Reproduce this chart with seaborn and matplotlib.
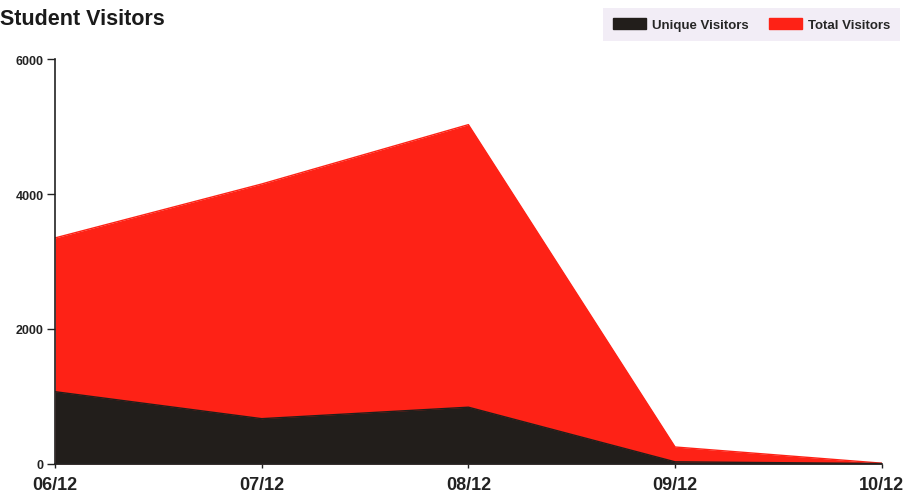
import matplotlib
matplotlib.use("Agg")
import matplotlib.pyplot as plt
import matplotlib.patches as mpatches
import seaborn as sns
import pandas as pd

months = ["06/12", "07/12", "08/12", "09/12", "10/12"]
total_visitors = [3350, 4150, 5030, 250, 10]
unique_visitors = [1070, 670, 840, 30, 5]
y_ticks = [0, 2000, 4000, 6000]

RED = "#fe2216"
DARK = "#221e1b"

sns.set_theme(style="white")
plt.rcParams["font.family"] = ["Liberation Sans", "DejaVu Sans"]

df = pd.DataFrame({
    "month": months,
    "pos": range(len(months)),
    "total": total_visitors,
    "unique": unique_visitors,
})

fig = plt.figure(figsize=(9.08, 5.02), dpi=100)
ax = fig.add_axes([0.0606, 0.074, 0.9105, 0.806])

ax.fill_between(df["pos"], 0, df["total"], color=RED, linewidth=0)
ax.fill_between(df["pos"], 0, df["unique"], color=DARK, linewidth=0)
sns.lineplot(data=df, x="pos", y="total", ax=ax, color=RED, linewidth=1)
sns.lineplot(data=df, x="pos", y="unique", ax=ax, color=DARK, linewidth=1)

ax.set_xlim(0, len(months) - 1)
ax.set_ylim(0, 6000)
ax.set_xticks(df["pos"])
ax.set_xticklabels(months, fontsize=13, fontweight="bold", color="#222222")
ax.set_yticks(y_ticks)
ax.set_yticklabels([str(v) for v in y_ticks], fontsize=9, fontweight="bold", color="#222222")
ax.set_xlabel("")
ax.set_ylabel("")

for side in ["top", "right"]:
    ax.spines[side].set_visible(False)
for side in ["left", "bottom"]:
    ax.spines[side].set_color("#222222")
    ax.spines[side].set_linewidth(1.2)

ax.tick_params(axis="y", direction="out", length=6, width=1, color="#222222", pad=2, left=True)
ax.tick_params(axis="x", direction="out", length=3, width=1, color="#222222", pad=6, bottom=True)

fig.text(0.0, 0.962, "Student Visitors", fontsize=15.5, fontweight="bold",
         color="#1a1a1a", ha="left", va="center")

handles = [
    mpatches.Patch(color=DARK, label="Unique Visitors"),
    mpatches.Patch(color=RED, label="Total Visitors"),
]
leg = fig.legend(handles=handles, loc="upper right", bbox_to_anchor=(0.999, 0.995),
                 ncol=2, frameon=True, fancybox=False, handlelength=2.5,
                 handleheight=0.9, handletextpad=0.5, columnspacing=1.5,
                 borderpad=0.75, prop={"size": 9.5, "weight": "bold"})
leg.get_frame().set_facecolor("#efe9f4")
leg.get_frame().set_edgecolor("none")

fig.savefig("out.png", dpi=100)
